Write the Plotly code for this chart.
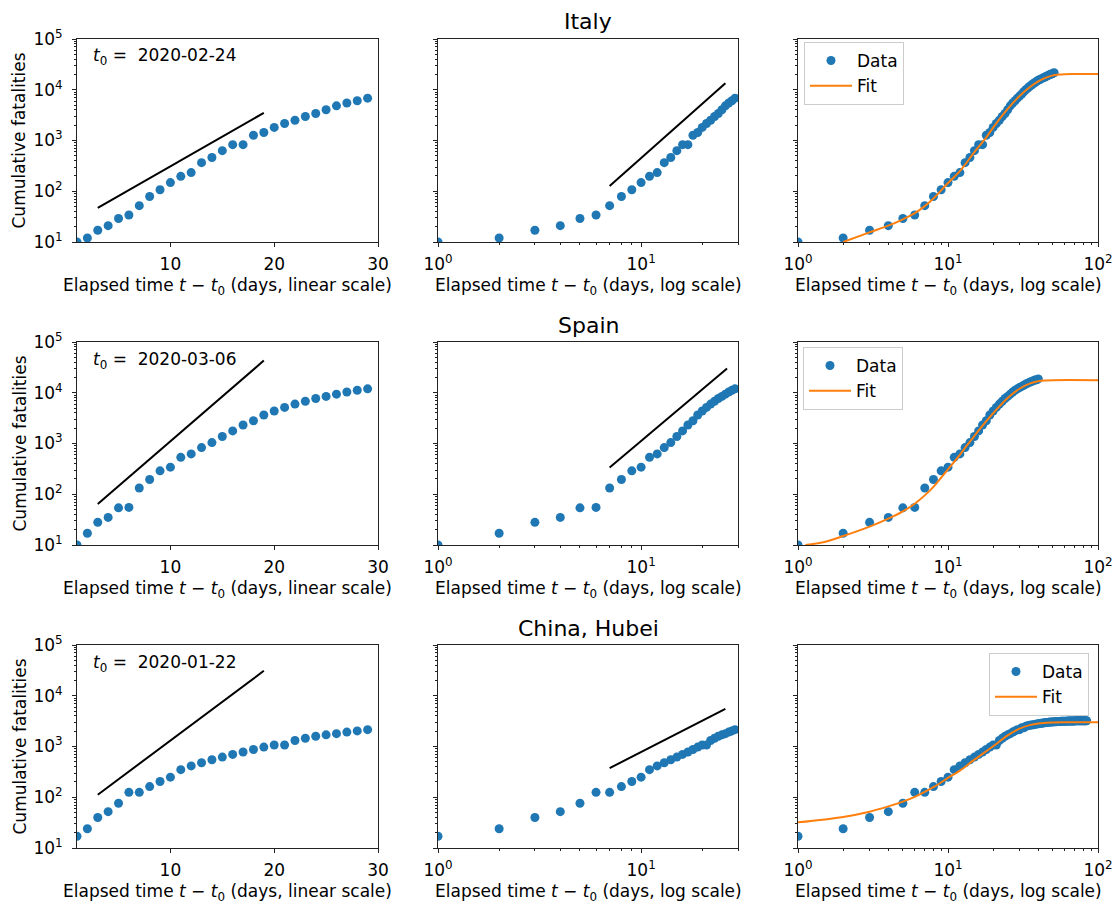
import plotly.graph_objects as go
from plotly.subplots import make_subplots

# ---------------- data ----------------
italy_deaths_early = [10, 12, 17, 21, 29, 34, 52, 79, 107, 148, 197, 233, 366, 463, 631,
                      827, 827, 1266, 1441, 1809, 2158, 2503, 2978, 3405, 4032, 4825,
                      5476, 6077, 6820]
italy_deaths_late = [7503, 8215, 9134, 10023, 10779, 11591, 12428, 13155, 13915, 14681,
                     15362, 15887, 16523, 17127, 17669, 18279, 18849, 19468, 19899,
                     20465, 21067, 21645]
spain_deaths_early = [10, 17, 28, 35, 54, 55, 133, 195, 289, 342, 533, 623, 830, 1043,
                      1375, 1772, 2311, 2808, 3647, 4365, 5138, 5982, 6803, 7716, 8464,
                      9387, 10348, 11198, 11947]
spain_deaths_late = [12641, 13341, 14045, 14792, 15447, 16081, 16606, 17209, 17756,
                     18056, 18708]
china_deaths_early = [17, 24, 40, 52, 76, 125, 125, 162, 204, 249, 350, 414, 479, 549,
                      618, 699, 780, 871, 974, 1068, 1068, 1310, 1457, 1596, 1696, 1789,
                      1921, 2029, 2144]
china_deaths_late = [2144, 2346, 2346, 2495, 2563, 2615, 2641, 2682, 2727, 2761, 2803,
                     2835, 2871, 2902, 2931, 2959, 2986, 3008, 3024, 3046, 3056, 3062,
                     3075, 3085, 3099, 3111, 3122, 3130, 3133, 3139, 3153, 3153, 3160,
                     3163, 3169, 3174, 3177, 3182, 3186, 3187, 3193, 3199, 3203, 3207,
                     3210, 3212, 3212, 3213, 3215, 3216, 3219, 3219, 3219, 3219, 3219]

# fitted curves
italy_fit_x = [2, 3, 4, 5, 6, 7, 8, 10, 12, 15, 18, 20, 25, 30, 35, 40, 45, 50, 55, 60, 70, 100]
italy_fit_y = [10, 15.5, 21, 28, 37, 51, 72, 145, 250, 590, 1150, 1800, 4200, 7500, 11200,
               14600, 17300, 19200, 20000, 20300, 20400, 20400]
spain_fit_x = [1.12, 1.5, 2, 3, 4, 5, 6, 7, 8, 10, 12, 13, 15, 18, 20, 25, 30, 35, 40, 45, 50, 100]
spain_fit_y = [10, 11.5, 15, 23, 33, 46, 65, 95, 140, 310, 600, 820, 1420, 2750, 3950,
               7900, 12000, 15100, 16900, 17500, 17700, 17700]
china_fit_x = [1, 2, 3, 4, 5, 6, 7, 8, 10, 12, 15, 20, 25, 30, 35, 40, 50, 60, 100]
china_fit_y = [32, 41, 52, 66, 82, 102, 128, 158, 240, 335, 550, 1010, 1660, 2250, 2640,
               2850, 2970, 3000, 3010]

# reference growth lines
italy_exp_x, italy_exp_y = [3, 19], [47, 3500]
spain_exp_x, spain_exp_y = [3, 19], [64, 43000]
china_exp_x, china_exp_y = [3, 19], [112, 31000]
italy_pow_x, italy_pow_y = [7, 26], [127, 13500]
spain_pow_x, spain_pow_y = [7, 26.5], [336, 30000]
china_pow_x, china_pow_y = [7, 26], [375, 5500]

regions = ["Italy", "Spain", "China, Hubei"]
start_dates = ["2020-02-24", "2020-03-06", "2020-01-22"]

y_tickvals = [10, 100, 1000, 10000, 100000]
y_ticktext = ["10<sup>1</sup>", "10<sup>2</sup>", "10<sup>3</sup>", "10<sup>4</sup>", "10<sup>5</sup>"]
lin_tickvals = [10, 20, 30]
log_tickvals_mid = [1, 10]
log_ticktext_mid = ["10<sup>0</sup>", "10<sup>1</sup>"]
log_tickvals_right = [1, 10, 100]
log_ticktext_right = ["10<sup>0</sup>", "10<sup>1</sup>", "10<sup>2</sup>"]

# ---------------- figure ----------------
W, H = 1113, 905
BLUE = "#1f77b4"
ORANGE = "#ff7f0e"
FONT = "DejaVu Sans"
AX = "#222222"
FS = 17

fig = make_subplots(rows=3, cols=3)

datasets = [
    (italy_deaths_early, italy_deaths_late, italy_fit_x, italy_fit_y,
     italy_exp_x, italy_exp_y, italy_pow_x, italy_pow_y),
    (spain_deaths_early, spain_deaths_late, spain_fit_x, spain_fit_y,
     spain_exp_x, spain_exp_y, spain_pow_x, spain_pow_y),
    (china_deaths_early, china_deaths_late, china_fit_x, china_fit_y,
     china_exp_x, china_exp_y, china_pow_x, china_pow_y),
]
legend_names = ["legend", "legend2", "legend3"]

for r, (early, late, fx, fy, ex, ey, px_, py_) in enumerate(datasets, start=1):
    days = list(range(1, len(early) + 1))
    all_vals = early + late
    all_days = list(range(1, len(all_vals) + 1))
    mk = dict(color=BLUE, size=9)
    # left: linear time
    fig.add_trace(go.Scatter(x=days, y=early, mode="markers", marker=mk, showlegend=False), row=r, col=1)
    fig.add_trace(go.Scatter(x=ex, y=ey, mode="lines", line=dict(color="black", width=2),
                             showlegend=False), row=r, col=1)
    # middle: log time
    fig.add_trace(go.Scatter(x=days, y=early, mode="markers", marker=mk, showlegend=False), row=r, col=2)
    fig.add_trace(go.Scatter(x=px_, y=py_, mode="lines", line=dict(color="black", width=2),
                             showlegend=False), row=r, col=2)
    # right: data + fit
    lg = legend_names[r - 1]
    fig.add_trace(go.Scatter(x=all_days, y=all_vals, mode="markers", marker=mk, name="Data",
                             legend=lg, showlegend=True), row=r, col=3)
    fig.add_trace(go.Scatter(x=fx, y=fy, mode="lines", line=dict(color=ORANGE, width=2, shape="spline"),
                             name="Fit", legend=lg, showlegend=True), row=r, col=3)

col_dom = [[77 / W, 378 / W], [438 / W, 738 / W], [798 / W, 1098 / W]]
row_px = [(39, 242), (342, 545), (645, 848)]
row_dom = [[1 - b / H, 1 - t / H] for t, b in row_px]

minor_y = [k * 10 ** d for d in range(1, 5) for k in range(2, 10)]
minor_x_mid = [2, 3, 4, 5, 6, 7, 8, 9, 20, 30]
minor_x_right = [k * 10 ** d for d in range(0, 2) for k in range(2, 10)]

base = dict(showline=True, mirror=True, linecolor=AX, linewidth=1, ticks="outside",
            ticklen=4, tickwidth=1, tickcolor=AX, showgrid=False, zeroline=False,
            ticklabelstandoff=3,
            tickfont=dict(family=FONT, size=FS, color="black"))

layout = {}
for r in range(3):
    for c in range(3):
        idx = r * 3 + c + 1
        sfx = "" if idx == 1 else str(idx)
        xa = dict(base, domain=col_dom[c], anchor="y" + sfx)
        if c == 0:
            xa.update(type="linear", range=[1, 30], tickvals=lin_tickvals)
        elif c == 1:
            xa.update(type="log", range=[0, 1.4771], tickvals=log_tickvals_mid,
                      ticktext=log_ticktext_mid,
                      minor=dict(tickvals=minor_x_mid, ticks="outside", ticklen=2,
                                 tickcolor=AX, showgrid=False))
        else:
            xa.update(type="log", range=[0, 2], tickvals=log_tickvals_right,
                      ticktext=log_ticktext_right,
                      minor=dict(tickvals=minor_x_right, ticks="outside", ticklen=2,
                                 tickcolor=AX, showgrid=False))
        ya = dict(base, domain=row_dom[r], anchor="x" + sfx, type="log", range=[1, 5],
                  tickvals=y_tickvals, ticktext=y_ticktext, showticklabels=(c == 0),
                  ticklabelstandoff=6,
                  minor=dict(tickvals=minor_y, ticks="outside", ticklen=2,
                             tickcolor=AX, showgrid=False))
        layout["xaxis" + sfx] = xa
        layout["yaxis" + sfx] = ya

leg_common = dict(bgcolor="rgba(255,255,255,0.8)", bordercolor="#cccccc", borderwidth=1,
                  font=dict(family=FONT, size=FS, color="black"), tracegroupgap=0,
                  itemwidth=42)
layout["legend"] = dict(leg_common, x=804 / W, y=1 - 42 / H, xanchor="left", yanchor="top")
layout["legend2"] = dict(leg_common, x=803 / W, y=1 - 347 / H, xanchor="left", yanchor="top")
layout["legend3"] = dict(leg_common, x=1089 / W, y=1 - 653 / H, xanchor="right", yanchor="top")

annotations = []
title_y = [22, 325, 628]
for r in range(3):
    annotations.append(dict(text=regions[r], x=588 / W, y=1 - title_y[r] / H, xref="paper",
                            yref="paper", xanchor="center", yanchor="middle", showarrow=False,
                            font=dict(family=FONT, size=22, color="black")))
    top, bot = row_px[r]
    annotations.append(dict(text="<i>t</i><sub>0</sub> =\u00a0\u00a0" + start_dates[r],
                            x=91 / W, y=1 - (top + 18) / H, xref="paper", yref="paper",
                            xanchor="left", yanchor="middle", align="left", showarrow=False,
                            font=dict(family=FONT, size=FS, color="black")))
    annotations.append(dict(text="Cumulative fatalities", x=19 / W, y=1 - (top + bot) / 2 / H,
                            xref="paper", yref="paper", xanchor="center", yanchor="middle",
                            textangle=-90, showarrow=False,
                            font=dict(family=FONT, size=FS, color="black")))
    for c, scale in enumerate(["linear scale", "log scale", "log scale"]):
        cx = (col_dom[c][0] + col_dom[c][1]) / 2
        annotations.append(dict(text="Elapsed time <i>t</i> − <i>t</i><sub>0</sub> (days, " + scale + ")",
                                x=cx, y=1 - (bot + 44) / H, xref="paper", yref="paper",
                                xanchor="center", yanchor="middle", showarrow=False,
                                font=dict(family=FONT, size=FS, color="black")))

fig.update_layout(**layout)
fig.update_layout(width=W, height=H,
                  margin=dict(l=0, r=0, t=0, b=0, pad=0, autoexpand=False),
                  paper_bgcolor="white", plot_bgcolor="white",
                  font=dict(family=FONT, size=FS, color="black"),
                  annotations=annotations)

fig.write_html("out.html")
